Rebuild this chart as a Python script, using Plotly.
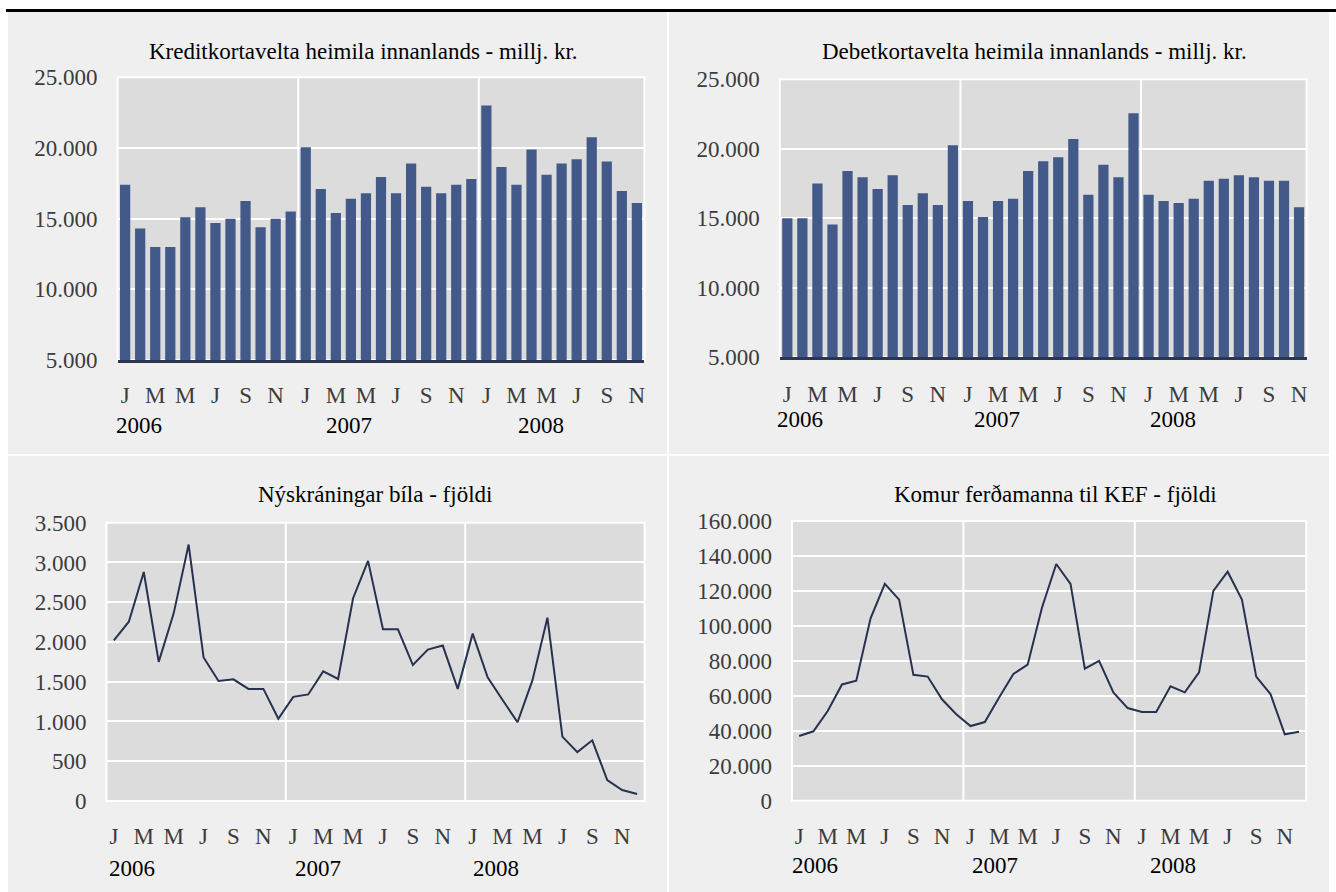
import plotly.graph_objects as go

W, H = 1336, 892

# --- data ---
years = [2006, 2007, 2008]
month_letters = ["J", "F", "M", "A", "M", "J", "J", "A", "S", "O", "N", "D"]
months = [f"{y}-{m:02d}" for y in years for m in range(1, 13)]

# credit card turnover, Jan 2006 - Nov 2008 (millj. kr.)
kredit = [17400, 14300, 13000, 13000, 15100, 15800, 14700, 15000, 16250, 14400, 15000, 15500,
          20050, 17100, 15400, 16400, 16800, 17950, 16800, 18900, 17250, 16800, 17400, 17800,
          23000, 18650, 17400, 19900, 18100, 18900, 19200, 20750, 19050, 16950, 16100]
# debit card turnover, Jan 2006 - Nov 2008 (millj. kr.)
debet = [15000, 15000, 17500, 14550, 18400, 17950, 17100, 18100, 15950, 16800, 15950, 20250,
         16250, 15100, 16250, 16400, 18400, 19100, 19400, 20700, 16700, 18850, 17950, 22550,
         16700, 16250, 16100, 16400, 17700, 17850, 18100, 17950, 17700, 17700, 15800]
# new car registrations, Jan 2006 - Dec 2008
bilar = [2020, 2255, 2880, 1750, 2360, 3225, 1805, 1510, 1530, 1410, 1410, 1035,
         1310, 1340, 1630, 1535, 2550, 3020, 2160, 2160, 1710, 1905, 1955, 1410,
         2105, 1555, 1270, 990, 1520, 2305, 810, 615, 763, 264, 138, 88]
# tourist arrivals at KEF, Jan 2006 - Dec 2008
ferdamenn = [37000, 39700, 51300, 66500, 68700, 104300, 124000, 115000, 72000, 71000, 58000, 49500,
             42700, 45000, 59000, 72500, 77800, 110400, 135400, 124000, 75500, 80000, 62000, 53000,
             50700, 50700, 65400, 62000, 73400, 120000, 131000, 115000, 71000, 61000, 38000, 39500]

titles = ["Kreditkortavelta heimila innanlands - millj. kr.",
          "Debetkortavelta heimila innanlands - millj. kr.",
          "Nýskráningar bíla - fjöldi",
          "Komur ferðamanna til KEF - fjöldi"]

FONT = "Liberation Serif"
BAR = "#42598a"
LINE = "#26324f"
AXIS = "#2b3651"
PLOTBG = "#dcdcdc"
PANEL = "#efefef"
TICK = "#3c3c3c"


def fx(px):
    return px / W


def fy(py):
    return 1 - py / H


fig = go.Figure()

fig.add_bar(x=months[:35], y=kredit, marker_color=BAR, marker_line_width=0, xaxis="x", yaxis="y")
fig.add_bar(x=months[:35], y=debet, marker_color=BAR, marker_line_width=0, xaxis="x2", yaxis="y2")
fig.add_scatter(x=months, y=bilar, mode="lines", line=dict(color=LINE, width=2), xaxis="x3", yaxis="y3")
fig.add_scatter(x=months, y=ferdamenn, mode="lines", line=dict(color=LINE, width=2), xaxis="x4", yaxis="y4")

# plot area boxes in pixels: (left, right, top, bottom)
boxes = [(117.6, 644.4, 77.3, 360.0),
         (779.8, 1306.6, 79.3, 357.3),
         (106.4, 644.6, 522.7, 801.0),
         (792.0, 1306.2, 521.0, 800.7)]
yranges = [[5000, 25000], [5000, 25000], [0, 3500], [0, 160000]]
dticks = [5000, 5000, 500, 20000]
ncats = [35, 35, 36, 36]
xstandoff = [12, 14, 19, 19]

tickfont = dict(family=FONT, size=23, color=TICK)
layout_axes = {}
for i, (l, r, t, b) in enumerate(boxes):
    sfx = "" if i == 0 else str(i + 1)
    cats = months[:ncats[i]]
    tv = cats[::2]
    layout_axes["xaxis" + sfx] = dict(
        domain=[fx(l), fx(r)], anchor="y" + sfx, type="category",
        categoryorder="array", categoryarray=cats, range=[-0.5, ncats[i] - 0.5],
        tickvals=tv, ticktext=[month_letters[int(m[5:]) - 1] for m in tv],
        tickfont=tickfont, showgrid=False, ticks="", ticklabelstandoff=xstandoff[i],
        showline=i < 2, linecolor=AXIS, linewidth=3, fixedrange=True, automargin=False,
    )
    layout_axes["yaxis" + sfx] = dict(
        domain=[fy(b), fy(t)], anchor="x" + sfx, range=yranges[i], dtick=dticks[i],
        tickformat=",d", tickfont=tickfont, showgrid=True, gridcolor="white", gridwidth=2,
        zeroline=False, showline=False, ticks="", ticklabelstandoff=19, fixedrange=True,
        automargin=False,
    )

shapes = [
    # panel background and separators
    dict(type="rect", xref="paper", yref="paper", x0=fx(8), x1=fx(1329), y0=0, y1=fy(12),
         fillcolor=PANEL, line_width=0, layer="below"),
    dict(type="line", xref="paper", yref="paper", x0=fx(668), x1=fx(668), y0=0, y1=fy(12),
         line=dict(color="white", width=2), layer="below"),
    dict(type="line", xref="paper", yref="paper", x0=fx(8), x1=fx(1329), y0=fy(455), y1=fy(455),
         line=dict(color="white", width=2), layer="below"),
    dict(type="line", xref="paper", yref="paper", x0=fx(6), x1=1, y0=fy(10.5), y1=fy(10.5),
         line=dict(color="black", width=3)),
]
for i in range(4):
    sfx = "" if i == 0 else str(i + 1)
    shapes.append(dict(type="rect", xref=f"x{sfx} domain", yref=f"y{sfx} domain",
                       x0=0, x1=1, y0=0, y1=1, fillcolor=PLOTBG,
                       line=dict(color="white", width=2), layer="below"))
    for k in (11.5, 23.5):
        shapes.append(dict(type="line", xref=f"x{sfx}", yref=f"y{sfx} domain",
                           x0=k, x1=k, y0=0, y1=1, line=dict(color="white", width=2), layer="below"))

annotations = []
title_pos = [(363, 52), (1034, 52), (375, 494), (1055, 494)]
for (cx, cy), txt in zip(title_pos, titles):
    annotations.append(dict(text=txt, xref="paper", yref="paper", x=fx(cx), y=fy(cy),
                            showarrow=False, xanchor="center", yanchor="middle",
                            font=dict(family=FONT, size=23, color="black")))

year_pos = [([0.9, 14.9, 27.6], 425), ([0.84, 13.93, 25.6], 419),
            ([1.2, 13.65, 25.56], 868), ([1.11, 13.7, 26.2], 865)]
for i, (xs, py) in enumerate(year_pos):
    sfx = "" if i == 0 else str(i + 1)
    for xv, yr in zip(xs, years):
        annotations.append(dict(text=str(yr), xref="x" + sfx, yref="paper", x=xv, y=fy(py),
                                showarrow=False, xanchor="center", yanchor="middle",
                                font=dict(family=FONT, size=23, color="black")))

fig.update_layout(
    width=W, height=H, margin=dict(l=0, r=0, t=0, b=0, pad=0, autoexpand=False),
    paper_bgcolor="white", plot_bgcolor="rgba(0,0,0,0)",
    separators=",.", showlegend=False, bargap=0.32,
    font=dict(family=FONT), shapes=shapes, annotations=annotations,
    **layout_axes,
)

fig.write_html("out.html", config={"displayModeBar": False},
               post_script="document.body.style.margin='0';document.body.style.overflow='hidden';")
